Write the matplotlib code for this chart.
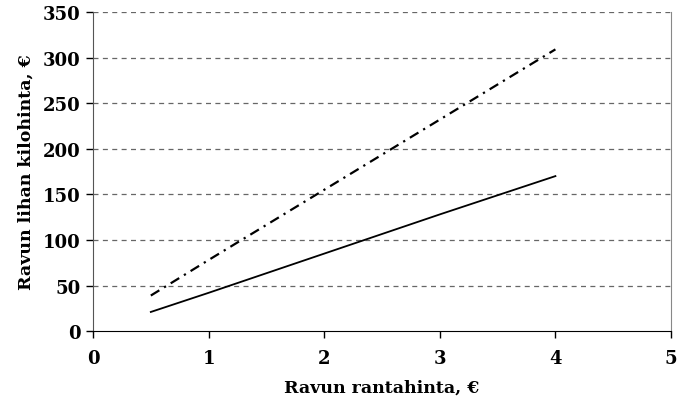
import matplotlib
matplotlib.use("Agg")
import matplotlib.pyplot as plt

# beach price (x) vs. meat price per kilo (y)
rantahinta = [0.5, 1, 2, 3, 4]
kilohinta_a = [21, 42, 85, 128, 170]
kilohinta_b = [39, 78, 155, 232, 309]

x_ticks = [0, 1, 2, 3, 4, 5]
y_ticks = [0, 50, 100, 150, 200, 250, 300, 350]

plt.rcParams["font.family"] = ["DejaVu Serif"]
plt.rcParams["font.weight"] = "bold"

fig = plt.figure(figsize=(6.84, 4.06), dpi=100)
ax = fig.add_axes([0.136, 0.182, 0.845, 0.786])

ax.plot(rantahinta, kilohinta_a, color="black", linewidth=1.3)
ax.plot(rantahinta, kilohinta_b, color="black", linewidth=1.6,
        dashes=(4.5, 2.5, 1, 2.5))

for y in y_ticks[1:]:
    ax.axhline(y, color="#666666", linestyle=(0, (4, 3.5)), linewidth=0.9, zorder=0)

ax.set_xlim(0, 5)
ax.set_ylim(0, 350)
ax.set_xticks(x_ticks)
ax.set_yticks(y_ticks)
ax.tick_params(direction="out", length=5, width=1, labelsize=13, pad=4)
ax.tick_params(axis="x", pad=8)

ax.spines["top"].set_visible(False)
ax.spines["right"].set_color("#888888")
ax.spines["right"].set_linewidth(0.8)
ax.spines["left"].set_color("#555555")
ax.spines["bottom"].set_color("black")

for lab in ax.get_xticklabels() + ax.get_yticklabels():
    lab.set_fontweight("bold")

ax.set_xlabel("Ravun rantahinta, €", fontsize=12.5, fontweight="bold", labelpad=8)
ax.set_ylabel("Ravun lihan kilohinta, €", fontsize=12.5, fontweight="bold", labelpad=6)

fig.savefig("out.png", dpi=100)
